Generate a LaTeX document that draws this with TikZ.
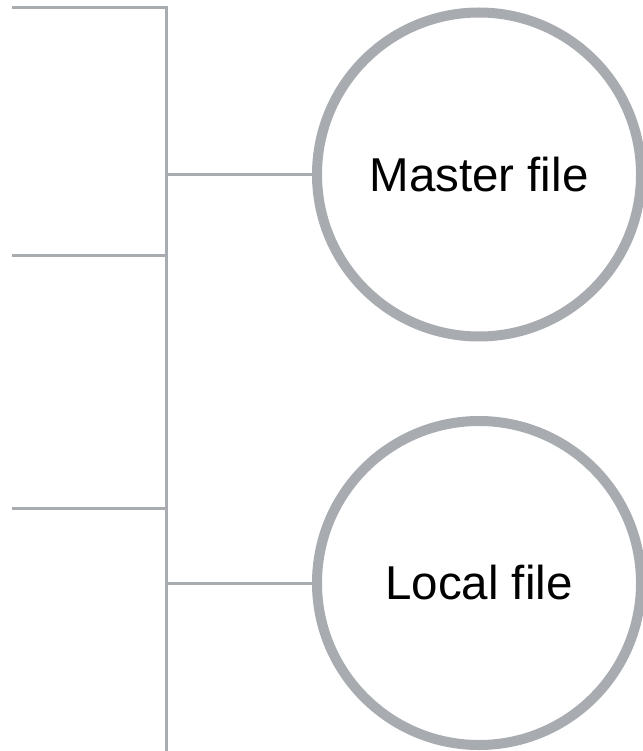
\documentclass[tikz,border=0pt]{standalone}
\usepackage{fontspec}
\setmainfont{Liberation Sans}
\usepackage{xcolor}
\usepackage{tikz}
\usetikzlibrary{positioning}

\definecolor{linegray}{HTML}{A8ACB1}

\begin{document}
\begin{tikzpicture}[
    x=1pt, y=-1pt,
    branch/.style={draw=linegray, line width=3pt},
    filenode/.style={circle, draw=linegray, line width=10pt, fill=white,
        minimum size=324pt, inner sep=0pt,
        font=\fontsize{47.5}{56}\selectfont}
]
\useasboundingbox (0,0) rectangle (642,751);

% spine and the stubs off to the left
\coordinate (top) at (166,8);
\coordinate (bot) at (166,751);
\coordinate (s1) at (12,8);
\coordinate (s2) at (12,255.5);
\coordinate (s3) at (12,508);

\node[filenode] (master) at (479,174.5) {Master file};
\node[filenode] (local) at (479,583) {Local file};

\draw[branch] (s1) -- (top) -- (bot);
\draw[branch] (s2) -- (s2 -| top);
\draw[branch] (s3) -- (s3 -| top);

\draw[branch] (master.west -| top) -- (master.west);
\draw[branch] (local.west -| top) -- (local.west);
\end{tikzpicture}
\end{document}
